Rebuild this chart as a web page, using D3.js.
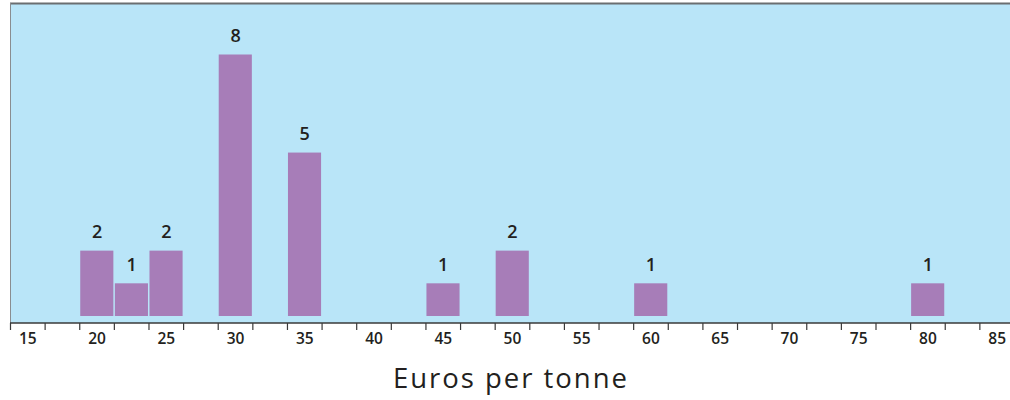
<!DOCTYPE html>
<html><head><meta charset="utf-8">
<script src="https://cdn.jsdelivr.net/npm/d3@7"></script>
<style>body{margin:0;background:#fff;}svg{display:block;}</style>
</head><body>
<svg id="c" width="1010" height="400"></svg>
<script>
const binCenters = [15,17.5,20,22.5,25,27.5,30,32.5,35,37.5,40,42.5,45,47.5,50,52.5,55,57.5,60,62.5,65,67.5,70,72.5,75,77.5,80,82.5,85];
const tickLabels = [15,20,25,30,35,40,45,50,55,60,65,70,75,80,85];
const barPrices = [20,22.5,25,30,35,45,50,60,80];
const barCounts = [2,1,2,8,5,1,2,1,1];
const xTitle = "Euros per tonne";

const svg = d3.select("#c");
const binW = 34.62;
const x = d3.scaleLinear().domain([13.75, 13.75 + 2.5*29]).range([10, 10 + 29*binW]);
const y = d3.scaleLinear().domain([0, 8]).range([316, 54.5]);
const FONT = "'Open Sans', Lato, sans-serif";

// panel
svg.append("rect").attr("x",10).attr("y",3).attr("width",1010).attr("height",320).attr("fill","#b9e5f8");
svg.append("line").attr("x1",10).attr("x2",1010).attr("y1",3.5).attr("y2",3.5).attr("stroke","#6b6e70").attr("stroke-width",2);
svg.append("line").attr("x1",10.5).attr("x2",10.5).attr("y1",3).attr("y2",323).attr("stroke","#8a8d90").attr("stroke-width",1);

// bars
const data = barPrices.map((p,i)=>({p, c: barCounts[i]}));
svg.selectAll("rect.bar").data(data).enter().append("rect").attr("class","bar")
  .attr("x", d => x(d.p - 1.25) + 1)
  .attr("width", binW - 1.5)
  .attr("y", d => y(d.c))
  .attr("height", d => y(0) - y(d.c))
  .attr("fill", "#a77db8");

svg.selectAll("text.val").data(data).enter().append("text").attr("class","val")
  .attr("x", d => x(d.p) + 0.5)
  .attr("y", d => y(d.c) - 12.7)
  .attr("text-anchor","middle")
  .attr("font-family",FONT)
  .attr("font-weight",600).attr("font-size",18).attr("fill","#231f20")
  .text(d => d.c);

// axis
const tickVals = [];
for (let i = 0; i <= 29; i++) tickVals.push(13.75 + 2.5*i);
const axis = d3.axisBottom(x).tickValues(tickVals).tickSize(7).tickFormat("");
const ag = svg.append("g").attr("transform","translate(0,323)").call(axis);
ag.select(".domain").attr("stroke","#3a3a3a").attr("stroke-width",1.5).attr("d","M10,0H1010");
ag.selectAll(".tick line").attr("stroke","#3a3a3a").attr("stroke-width",1.2);

svg.selectAll("text.tl").data(tickLabels).enter().append("text").attr("class","tl")
  .attr("x", d => x(d) + 0.5)
  .attr("y", 344)
  .attr("text-anchor","middle")
  .attr("font-family",FONT)
  .attr("font-weight",600).attr("font-size",15.5).attr("fill","#231f20")
  .text(d => d);

const t = svg.append("text").attr("x",510).attr("y",388).attr("text-anchor","middle")
  .attr("font-family",FONT)
  .attr("font-size",27.5).attr("fill","#231f20")
  .text(xTitle);
const len = t.node().getComputedTextLength();
const ls = Math.max(0, (234 - len) / (xTitle.length - 1));
t.attr("letter-spacing", ls).attr("x", 510 + ls/2);
</script>
</body></html>
